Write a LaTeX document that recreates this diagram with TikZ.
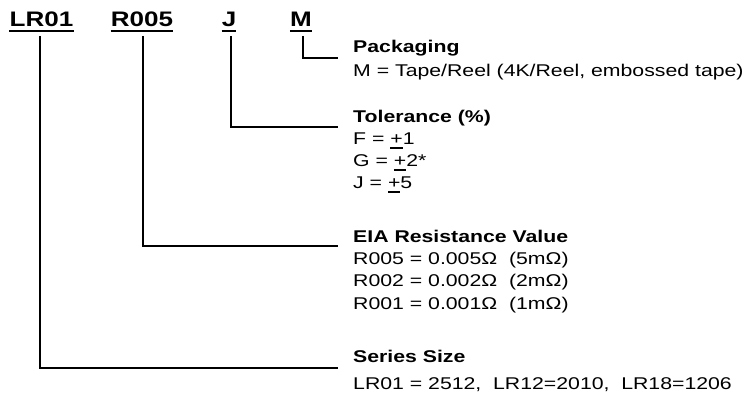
\documentclass[tikz,border=0pt]{standalone}
\usepackage{fontspec}
\setmainfont[FakeStretch=1.25]{Liberation Sans}
\newfontfamily\lblfont[FakeStretch=1.24]{Liberation Sans}
\newsavebox\pmbox
\newcommand\pmsign{\sbox\pmbox{+}\rlap{\rule[-3.6pt]{\wd\pmbox}{1.4pt}}\usebox\pmbox}
\begin{document}
\begin{tikzpicture}[x=1pt,y=-1pt,
  txt/.style={anchor=base west,inner sep=0pt,font=\fontsize{17}{22}\selectfont},
  head/.style={anchor=base west,inner sep=0pt,font=\fontsize{17}{22}\selectfont\bfseries},
  code/.style={anchor=base,inner sep=0pt,font=\lblfont\fontsize{21}{24}\selectfont\bfseries},
  conn/.style={line width=2pt},
  uline/.style={line width=2pt}]
\useasboundingbox (0,0) rectangle (747,403);

% code labels
\node[code] (lr01) at (41.5,27) {LR01};
\node[code] (r005) at (142,27) {R005};
\node[code] (j) at (229,27) {J};
\node[code] (m) at (301,27) {M};
\foreach \n in {lr01,r005,j,m}{
  \draw[uline] ([yshift=-4pt]\n.base west) -- ([yshift=-4pt]\n.base east);
}

% headings and descriptions
\node[head] (pack) at (353,53) {Packaging};
\node[txt] (packd) at (353,77) {M = Tape/Reel (4K/Reel, embossed tape)};

\node[head] (tol) at (353,123) {Tolerance (\%)};
\node[txt] (tolf) at (353,145) {F = \pmsign{}1};
\node[txt] (tolg) at (353,167) {G = \pmsign{}2*};
\node[txt] (tolj) at (353,189) {J = \pmsign{}5};

\node[head] (eia) at (353,243) {EIA Resistance Value};
\node[txt] (eia1) at (353,265) {R005 = 0.005Ω\ \ (5mΩ)};
\node[txt] (eia2) at (353,287) {R002 = 0.002Ω\ \ (2mΩ)};
\node[txt] (eia3) at (353,309) {R001 = 0.001Ω\ \ (1mΩ)};

\node[head] (ser) at (353,362) {Series Size};
\node[txt] (serd) at (353,389) {LR01 = 2512,\ \ LR12=2010,\ \ LR18=1206};

% connector ends
\coordinate (cpack) at (338,58);
\coordinate (ctol) at (338,127);
\coordinate (ceia) at (338,246);
\coordinate (cser) at (338,368);

\draw[conn] ([xshift=2pt,yshift=-9pt]m.base) |- (cpack);
\draw[conn] ([xshift=2pt,yshift=-9pt]j.base) |- (ctol);
\draw[conn] ([xshift=1pt,yshift=-9pt]r005.base) |- (ceia);
\draw[conn] ([xshift=-1.5pt,yshift=-9pt]lr01.base) |- (cser);
\end{tikzpicture}
\end{document}
